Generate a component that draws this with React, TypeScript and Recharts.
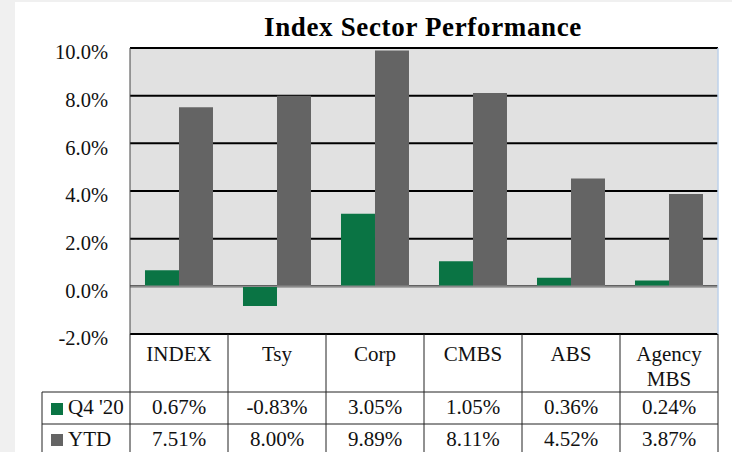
import React from 'react';
import { BarChart, Bar, XAxis, YAxis, CartesianGrid, ReferenceLine } from 'recharts';

const categories = ['INDEX', 'Tsy', 'Corp', 'CMBS', 'ABS', 'Agency MBS'];
const q4Values = [0.67, -0.83, 3.05, 1.05, 0.36, 0.24];
const ytdValues = [7.51, 8.0, 9.89, 8.11, 4.52, 3.87];
const yTicks = [-2, 0, 2, 4, 6, 8, 10];
const seriesNames = { q4: "Q4 '20", ytd: 'YTD' };

const GREEN = '#0a7444';
const GRAY = '#646464';
const FONT = "'Liberation Serif', 'Times New Roman', serif";

const data = categories.map((c, i) => ({ name: c, q4: q4Values[i], ytd: ytdValues[i] }));

const fmt = (v: number) => v.toFixed(2) + '%';

function TableTick(props: any) {
  const { x, y, payload } = props;
  const i = payload.index;
  const half = payload.offset || 49;
  const left = x - half;
  const right = x + half;
  const bottom = y + 130;
  const name: string = payload.value;
  const lines = name === 'Agency MBS' ? ['Agency', 'MBS'] : [name];
  const ts = { fontFamily: FONT, fontSize: 21, fill: '#111' } as const;
  return (
    <g>
      <line x1={right} y1={y} x2={right} y2={bottom} stroke="#222" strokeWidth={1} />
      {i === 0 && <line x1={left} y1={y} x2={left} y2={bottom} stroke="#222" strokeWidth={1} />}
      <line x1={left} y1={y + 58} x2={right} y2={y + 58} stroke="#222" strokeWidth={1} />
      <line x1={left} y1={y + 90} x2={right} y2={y + 90} stroke="#222" strokeWidth={1} />
      {lines.map((l, k) => (
        <text key={k} x={x} y={y + 27 + k * 25} textAnchor="middle" {...ts}>{l}</text>
      ))}
      <text x={x} y={y + 80} textAnchor="middle" {...ts}>{fmt(q4Values[i])}</text>
      <text x={x} y={y + 112} textAnchor="middle" {...ts}>{fmt(ytdValues[i])}</text>
      {i === 0 && (
        <g>
          <line x1={left - 88} y1={y + 58} x2={left - 88} y2={bottom} stroke="#222" strokeWidth={1} />
          <line x1={left - 88} y1={y + 58} x2={left} y2={y + 58} stroke="#222" strokeWidth={1} />
          <line x1={left - 88} y1={y + 90} x2={left} y2={y + 90} stroke="#222" strokeWidth={1} />
          <rect x={left - 79} y={y + 69} width={12} height={12} fill={GREEN} />
          <rect x={left - 79} y={y + 100} width={12} height={12} fill={GRAY} />
          <text x={left - 62} y={y + 80} textAnchor="start" {...ts}>{seriesNames.q4}</text>
          <text x={left - 62} y={y + 112} textAnchor="start" {...ts}>{seriesNames.ytd}</text>
        </g>
      )}
    </g>
  );
}

export default function App() {
  return (
    <div style={{ position: 'absolute', left: 0, top: 0, width: 732, height: 452, background: '#f0f0f0', overflow: 'hidden' }}>
      <div style={{ position: 'absolute', left: 15, top: 2, width: 717, height: 450, background: '#fff' }}>
        <BarChart
          width={717}
          height={450}
          data={data}
          margin={{ top: 46, right: 13, bottom: 0, left: 0 }}
          barCategoryGap="15.3%"
          barGap={0}
        >
          <CartesianGrid vertical={false} stroke="#000" strokeWidth={2} fill="#e1e1e1" strokeDasharray="" />
          <XAxis
            dataKey="name"
            height={118}
            tickLine={false}
            tickSize={0}
            tickMargin={0}
            axisLine={{ stroke: '#000', strokeWidth: 2 }}
            tick={<TableTick />}
            interval={0}
          />
          <YAxis
            width={115}
            domain={[-2, 10]}
            ticks={yTicks}
            interval={0}
            tickFormatter={(v: number) => v.toFixed(1) + '%'}
            tickLine={false}
            tickSize={0}
            tickMargin={22}
            axisLine={{ stroke: '#444', strokeWidth: 1 }}
            tick={{ fontFamily: FONT, fontSize: 20.5, fill: '#111', dy: 4 }}
          />
          <YAxis
            yAxisId="r"
            orientation="right"
            width={1}
            domain={[-2, 10]}
            tick={false}
            tickLine={false}
            axisLine={{ stroke: '#bcd0ea', strokeWidth: 1.5 }}
          />
          <Bar dataKey="q4" name={seriesNames.q4} fill={GREEN} isAnimationActive={false} />
          <Bar dataKey="ytd" name={seriesNames.ytd} fill={GRAY} isAnimationActive={false} />
          <ReferenceLine y={0} stroke="#8a8a8a" strokeWidth={1.5} />
        </BarChart>
      </div>
      <svg style={{ position: 'absolute', left: 0, top: 0, pointerEvents: 'none' }} width={732} height={60}>
        <text x={423} y={36} textAnchor="middle" fontFamily={FONT} fontWeight="bold" fontSize={27} letterSpacing={0.65} fill="#000">
          Index Sector Performance
        </text>
      </svg>
    </div>
  );
}
